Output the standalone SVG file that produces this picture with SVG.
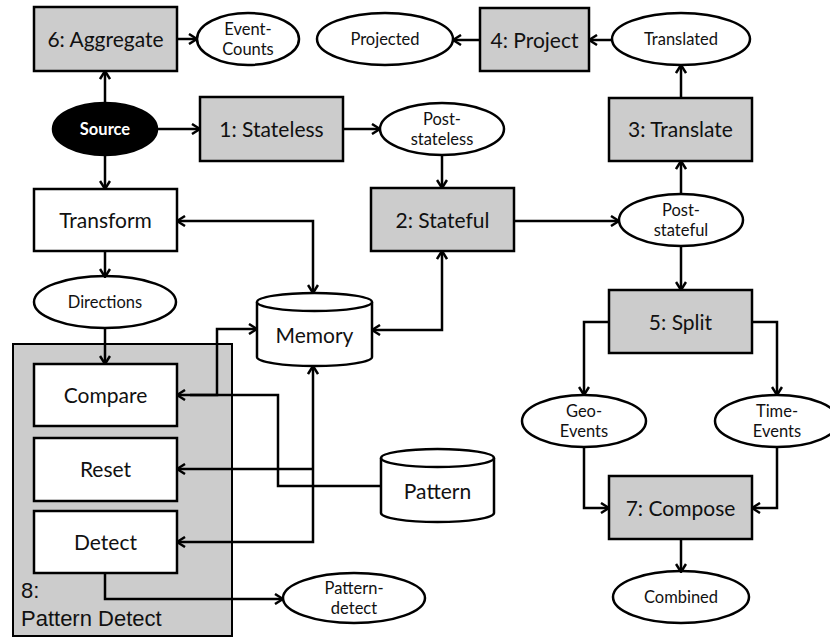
<svg xmlns="http://www.w3.org/2000/svg" width="830" height="637" viewBox="0 0 830 637">
  <style>
    .op { fill: #cccccc; stroke: #000; stroke-width: 2.5; }
    .box { fill: #fff; stroke: #000; stroke-width: 2.5; }
    .grp { fill: #cccccc; stroke: #000; stroke-width: 2; }
    .data { fill: #fff; stroke: #000; stroke-width: 2.5; }
    .lbl { font-family: Lato, "Open Sans", sans-serif; font-size: 21px; fill: #111; text-anchor: middle; }
    .sm { font-family: Lato, "Open Sans", sans-serif; font-size: 16.5px; fill: #111; text-anchor: middle; }
    .grplbl { font-family: "Liberation Sans", Arial, sans-serif; font-size: 22px; fill: #111; }
    .conn path { fill: none; stroke: #000; stroke-width: 2.5; }
  </style>
  <defs>
    <marker id="arr" viewBox="0 0 10 12" refX="9" refY="6" markerWidth="10" markerHeight="12" markerUnits="userSpaceOnUse" orient="auto-start-reverse">
      <path d="M1,1 L9,6 L1,11" fill="none" stroke="#000" stroke-width="2.5"/>
    </marker>
  </defs>

  <rect width="830" height="637" fill="#fff"/>

  <!-- Pattern Detect container -->
  <g id="pattern-detect">
    <rect class="grp" x="13" y="344" width="219" height="292"/>
    <text class="grplbl" x="21" y="598">8:</text>
    <text class="grplbl" x="21" y="626">Pattern Detect</text>
  </g>

  <g id="aggregate">
    <rect class="op" x="34" y="7" width="143" height="64"/>
    <text class="lbl" x="105.5" y="47">6: Aggregate</text>
  </g>
  <g id="event-counts">
    <ellipse class="data" cx="248" cy="39" rx="51" ry="26"/>
    <text class="sm" x="248" y="35">Event-</text>
    <text class="sm" x="248" y="55">Counts</text>
  </g>
  <g id="projected">
    <ellipse class="data" cx="385" cy="39" rx="68" ry="26"/>
    <text class="sm" x="385" y="45">Projected</text>
  </g>
  <g id="project">
    <rect class="op" x="480" y="8" width="109" height="63"/>
    <text class="lbl" x="534.5" y="48">4: Project</text>
  </g>
  <g id="translated">
    <ellipse class="data" cx="681" cy="39" rx="69" ry="26"/>
    <text class="sm" x="681" y="45">Translated</text>
  </g>
  <g id="translate">
    <rect class="op" x="609" y="98" width="143" height="63"/>
    <text class="lbl" x="680.5" y="137">3: Translate</text>
  </g>
  <g id="source">
    <ellipse cx="105" cy="129" rx="52" ry="26" fill="#000" stroke="#000" stroke-width="2.5"/>
    <text class="sm" x="105" y="135" fill="#fff" style="fill:#fff;font-weight:bold">Source</text>
  </g>
  <g id="stateless">
    <rect class="op" x="200" y="97" width="143" height="64"/>
    <text class="lbl" x="271.5" y="137">1: Stateless</text>
  </g>
  <g id="post-stateless">
    <ellipse class="data" cx="442" cy="129" rx="62" ry="26"/>
    <text class="sm" x="442" y="125">Post-</text>
    <text class="sm" x="442" y="145">stateless</text>
  </g>
  <g id="transform">
    <rect class="box" x="34" y="189" width="143" height="62"/>
    <text class="lbl" x="105.5" y="228">Transform</text>
  </g>
  <g id="stateful">
    <rect class="op" x="371" y="188" width="143" height="63"/>
    <text class="lbl" x="442.5" y="228">2: Stateful</text>
  </g>
  <g id="post-stateful">
    <ellipse class="data" cx="681" cy="220" rx="62" ry="26"/>
    <text class="sm" x="681" y="216">Post-</text>
    <text class="sm" x="681" y="236">stateful</text>
  </g>
  <g id="directions">
    <ellipse class="data" cx="105" cy="302" rx="71" ry="26"/>
    <text class="sm" x="105" y="308">Directions</text>
  </g>
  <g id="memory">
    <path class="data" d="M257,302 V357 A57.5,9 0 0 0 372,357 V302"/>
    <ellipse class="data" cx="314.5" cy="302" rx="57.5" ry="9"/>
    <text class="lbl" x="314.5" y="343">Memory</text>
  </g>
  <g id="split">
    <rect class="op" x="609" y="290" width="143" height="63"/>
    <text class="lbl" x="680.5" y="330">5: Split</text>
  </g>
  <g id="compare">
    <rect class="box" x="34" y="364" width="143" height="62"/>
    <text class="lbl" x="105.5" y="403">Compare</text>
  </g>
  <g id="reset">
    <rect class="box" x="34" y="438" width="143" height="63"/>
    <text class="lbl" x="105.5" y="477">Reset</text>
  </g>
  <g id="detect">
    <rect class="box" x="34" y="511" width="143" height="62"/>
    <text class="lbl" x="105.5" y="550">Detect</text>
  </g>
  <g id="pattern">
    <path class="data" d="M381,458 V513 A56.5,9 0 0 0 494,513 V458"/>
    <ellipse class="data" cx="437.5" cy="458" rx="56.5" ry="9"/>
    <text class="lbl" x="437.5" y="499">Pattern</text>
  </g>
  <g id="geo-events">
    <ellipse class="data" cx="584" cy="421" rx="62" ry="26"/>
    <text class="sm" x="584" y="417">Geo-</text>
    <text class="sm" x="584" y="437">Events</text>
  </g>
  <g id="time-events">
    <ellipse class="data" cx="777" cy="421" rx="62" ry="26"/>
    <text class="sm" x="777" y="417">Time-</text>
    <text class="sm" x="777" y="437">Events</text>
  </g>
  <g id="compose">
    <rect class="op" x="609" y="476" width="143" height="63"/>
    <text class="lbl" x="680.5" y="516">7: Compose</text>
  </g>
  <g id="combined">
    <ellipse class="data" cx="681" cy="597" rx="68" ry="26"/>
    <text class="sm" x="681" y="603">Combined</text>
  </g>
  <g id="pattern-detect-out">
    <ellipse class="data" cx="354" cy="598" rx="71" ry="25"/>
    <text class="sm" x="354" y="594">Pattern-</text>
    <text class="sm" x="354" y="614">detect</text>
  </g>

  <!-- connectors -->
  <g class="conn" id="connectors">
    <path d="M177,39 H197" marker-end="url(#arr)"/>
    <path d="M480,40 H453" marker-end="url(#arr)"/>
    <path d="M612,40 H589" marker-end="url(#arr)"/>
    <path d="M681,98 V65" marker-end="url(#arr)"/>
    <path d="M681,194 V161" marker-end="url(#arr)"/>
    <path d="M105,103 V71" marker-end="url(#arr)"/>
    <path d="M157,129 H200" marker-end="url(#arr)"/>
    <path d="M343,129 H380" marker-end="url(#arr)"/>
    <path d="M442,155 V188" marker-end="url(#arr)"/>
    <path d="M105,155 V189" marker-end="url(#arr)"/>
    <path d="M514,221 H619" marker-end="url(#arr)"/>
    <path d="M681,246 V290" marker-end="url(#arr)"/>
    <path d="M609,322 H584 V395" marker-end="url(#arr)"/>
    <path d="M752,322 H777 V395" marker-end="url(#arr)"/>
    <path d="M584,447 V508 H609" marker-end="url(#arr)"/>
    <path d="M777,447 V508 H752" marker-end="url(#arr)"/>
    <path d="M681,539 V572" marker-end="url(#arr)"/>
    <path d="M105,251 V277" marker-end="url(#arr)"/>
    <path d="M105,328 V364" marker-end="url(#arr)"/>
    <!-- Transform <-> Memory -->
    <path d="M177,221 H313 V293" marker-start="url(#arr)" marker-end="url(#arr)"/>
    <!-- Memory <-> Stateful -->
    <path d="M372,330 H442 V251" marker-start="url(#arr)" marker-end="url(#arr)"/>
    <!-- Compare -> Memory -->
    <path d="M190,395 H217 V329 H257" marker-end="url(#arr)"/>
    <!-- Pattern -> Compare -->
    <path d="M381,486 H278 V395 H177" marker-end="url(#arr)"/>
    <!-- Memory <-> Detect, Reset -->
    <path d="M177,542 H313 V366" marker-start="url(#arr)" marker-end="url(#arr)"/>
    <path d="M313,469 H177" marker-end="url(#arr)"/>
    <!-- Detect -> Pattern-detect -->
    <path d="M105,573 V599 H283" marker-end="url(#arr)"/>
  </g>
</svg>
